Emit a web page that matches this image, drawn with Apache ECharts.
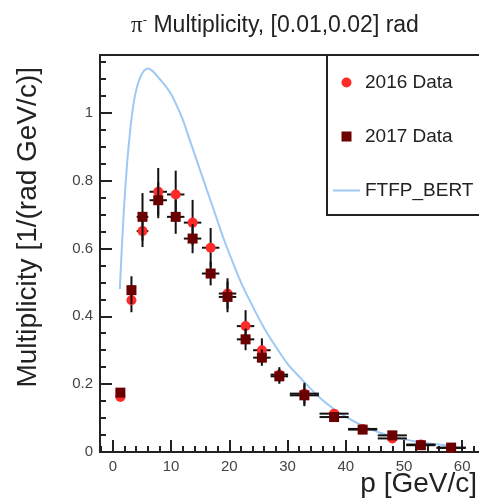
<!DOCTYPE html>
<html><head><meta charset="utf-8">
<script src="https://cdn.jsdelivr.net/npm/echarts@6/dist/echarts.min.js"></script>
<style>html,body{margin:0;padding:0;background:#fff}#c{width:479px;height:499px}</style>
</head><body><div id="c"></div>
<script>
// ---- data ----
const pMom     = [1.3, 3.2, 5.1, 7.8, 10.8, 13.7, 16.8, 19.7, 22.8, 25.6, 28.6, 32.9, 38.0, 42.9, 48.0, 52.9, 58.1];
const pErr     = [0.5, 0.75, 1, 1.5, 1.5, 1.5, 1.5, 1.5, 1.5, 1.5, 1.5, 2.5, 2.5, 2.5, 2.5, 2.5, 2.5];
const mult2016 = [0.162, 0.447, 0.651, 0.767, 0.759, 0.676, 0.602, 0.467, 0.371, 0.300, 0.228, 0.172, 0.113, 0.068, 0.040, 0.022, 0.012];
const err2016  = [0.012, 0.035, 0.047, 0.070, 0.070, 0.067, 0.058, 0.045, 0.047, 0.035, 0.022, 0.032, 0.010, 0.006, 0.005, 0.004, 0.003];
const mult2017 = [0.175, 0.477, 0.693, 0.742, 0.693, 0.629, 0.526, 0.457, 0.332, 0.278, 0.223, 0.167, 0.103, 0.066, 0.049, 0.020, 0.013];
const err2017  = [0.012, 0.041, 0.070, 0.053, 0.050, 0.043, 0.035, 0.045, 0.032, 0.024, 0.022, 0.032, 0.010, 0.006, 0.005, 0.004, 0.003];
const bertP    = [1.2, 1.6, 2.0, 2.5, 3.0, 3.5, 4.0, 4.5, 5.0, 5.5, 6.0, 6.5, 7.0, 8.0, 9.0, 10, 11, 12, 13, 14, 15, 16, 17, 18, 19, 20, 22, 24, 26, 28, 30, 32, 34, 36, 38, 40, 42, 44, 46, 48, 50, 52, 54, 56, 58];
const bertMult = [0.48, 0.62, 0.74, 0.86, 0.95, 1.02, 1.065, 1.095, 1.115, 1.126, 1.13, 1.127, 1.12, 1.10, 1.08, 1.055, 1.02, 0.98, 0.93, 0.88, 0.83, 0.78, 0.73, 0.68, 0.63, 0.585, 0.50, 0.43, 0.365, 0.31, 0.26, 0.222, 0.186, 0.153, 0.126, 0.104, 0.085, 0.069, 0.056, 0.046, 0.038, 0.031, 0.026, 0.022, 0.019];
const xMajor = [0, 10, 20, 30, 40, 50, 60];
const xMinor = [-2, 2, 4, 6, 8, 12, 14, 16, 18, 22, 24, 26, 28, 32, 34, 36, 38, 42, 44, 46, 48, 52, 54, 56, 58, 62];
const yMajor = [0, 0.2, 0.4, 0.6, 0.8, 1];
const yMinor = [0.05, 0.1, 0.15, 0.25, 0.3, 0.35, 0.45, 0.5, 0.55, 0.65, 0.7, 0.75, 0.85, 0.9, 0.95, 1.05, 1.1, 1.15];
const legendNames = ['2016 Data', '2017 Data', 'FTFP_BERT'];

const X_MIN = -2.2, X_MAX = 63.4, Y_MIN = 0, Y_MAX = 1.17;
const FONT = 'Liberation Sans';
const AX = '#222';
const BERT_COLOR = '#9ec9f5';

function errItem(params, api) {
  const x = api.value(0), y = api.value(1), ex = api.value(2), ey = api.value(3);
  const l = api.coord([x - ex, y]), r = api.coord([x + ex, y]);
  const t = api.coord([x, y + ey]), b = api.coord([x, y - ey]);
  const st = { stroke: '#111', lineWidth: 2 };
  return { type: 'group', children: [
    { type: 'line', shape: { x1: l[0], y1: l[1], x2: r[0], y2: r[1] }, style: st },
    { type: 'line', shape: { x1: t[0], y1: t[1], x2: b[0], y2: b[1] }, style: st }
  ]};
}

const chart = echarts.init(document.getElementById('c'), null, { renderer: 'canvas' });
chart.setOption({
  animation: false,
  backgroundColor: '#fff',
  title: {
    text: '{pi|π}{sup|-} Multiplicity, [0.01,0.02] rad',
    left: 270, textAlign: 'center', top: 9,
    textStyle: {
      fontSize: 23, fontWeight: 'normal', color: '#222', fontFamily: FONT,
      rich: {
        pi: { fontFamily: 'Liberation Serif', fontSize: 23, color: '#222' },
        sup: { fontFamily: FONT, fontSize: 13, color: '#222', verticalAlign: 'top' }
      }
    }
  },
  legend: {
    data: [
      { name: legendNames[0], icon: 'circle' },
      { name: legendNames[1], icon: 'path://M0,0L10,0L10,10L0,10Z' },
      { name: legendNames[2], icon: 'path://M0,0L27,0L27,2L0,2Z', itemStyle: { color: BERT_COLOR } }
    ],
    orient: 'vertical', left: 327, top: 55,
    itemWidth: 27, itemHeight: 10, itemGap: 35,
    padding: [18, 25, 15, 6],
    borderColor: AX, borderWidth: 2, backgroundColor: '#fff',
    textStyle: { fontSize: 19, color: '#222', fontFamily: FONT },
    selectedMode: false, z: 10
  },
  grid: [
    { left: 100, right: -3, top: 55, bottom: 47, show: true, borderColor: AX, borderWidth: 2, backgroundColor: 'transparent', outerBoundsMode: 'none', containLabel: false },
    { left: 100, right: -3, top: 55, bottom: 47, outerBoundsMode: 'none', containLabel: false }
  ],
  xAxis: [
    {
      type: 'value', gridIndex: 0, min: X_MIN, max: X_MAX,
      axisLine: { show: true, onZero: false, lineStyle: { color: AX, width: 2 } },
      axisTick: { show: true, inside: true, length: 12, customValues: xMajor, lineStyle: { color: AX, width: 2 } },
      axisLabel: { customValues: xMajor, color: '#444', fontSize: 15, margin: 7, fontFamily: FONT },
      splitLine: { show: false },
      name: 'p [GeV/c]', nameLocation: 'end', nameGap: 0, nameMoveOverlap: false,
      nameTextStyle: { fontSize: 28, color: '#222', fontFamily: FONT, align: 'right', verticalAlign: 'top', padding: [18, 5, 0, 0] }
    },
    {
      type: 'value', gridIndex: 1, min: X_MIN, max: X_MAX,
      axisLine: { show: false, onZero: false },
      axisTick: { show: true, inside: true, length: 6, customValues: xMinor, lineStyle: { color: AX, width: 2 } },
      axisLabel: { show: false }, splitLine: { show: false }
    }
  ],
  yAxis: [
    {
      type: 'value', gridIndex: 0, min: Y_MIN, max: Y_MAX,
      axisLine: { show: true, onZero: false, lineStyle: { color: AX, width: 2 } },
      axisTick: { show: true, inside: true, length: 12, customValues: yMajor, lineStyle: { color: AX, width: 2 } },
      axisLabel: { customValues: yMajor, color: '#444', fontSize: 15, margin: 7, fontFamily: FONT },
      splitLine: { show: false },
      name: 'Multiplicity [1/(rad GeV/c)]', nameLocation: 'end', nameGap: 0, nameRotate: 90, nameMoveOverlap: false,
      nameTextStyle: { fontSize: 28, color: '#222', fontFamily: FONT, align: 'right', verticalAlign: 'bottom', padding: [0, 12, 58, 0] }
    },
    {
      type: 'value', gridIndex: 1, min: Y_MIN, max: Y_MAX,
      axisLine: { show: false, onZero: false },
      axisTick: { show: true, inside: true, length: 6, customValues: yMinor, lineStyle: { color: AX, width: 2 } },
      axisLabel: { show: false }, splitLine: { show: false }
    }
  ],
  series: [
    {
      name: 'FTFP_BERT', type: 'line', xAxisIndex: 0, yAxisIndex: 0,
      data: bertP.map((p, i) => [p, bertMult[i]]),
      symbol: 'none', smooth: 0.3,
      lineStyle: { color: BERT_COLOR, width: 2 }, itemStyle: { color: BERT_COLOR }, z: 1
    },
    {
      name: 'err2016', type: 'custom', xAxisIndex: 0, yAxisIndex: 0,
      renderItem: errItem, encode: { x: 0, y: 1 },
      data: pMom.map((p, i) => [p, mult2016[i], pErr[i], err2016[i]]), z: 2, silent: true
    },
    {
      name: '2016 Data', type: 'scatter', xAxisIndex: 0, yAxisIndex: 0,
      data: pMom.map((p, i) => [p, mult2016[i]]),
      symbol: 'circle', symbolSize: 10, itemStyle: { color: '#ff2b2b', opacity: 1 }, z: 3
    },
    {
      name: 'err2017', type: 'custom', xAxisIndex: 0, yAxisIndex: 0,
      renderItem: errItem, encode: { x: 0, y: 1 },
      data: pMom.map((p, i) => [p, mult2017[i], pErr[i], err2017[i]]), z: 4, silent: true
    },
    {
      name: '2017 Data', type: 'scatter', xAxisIndex: 0, yAxisIndex: 0,
      data: pMom.map((p, i) => [p, mult2017[i]]),
      symbol: 'rect', symbolSize: 10, itemStyle: { color: '#6b0000', opacity: 1 }, z: 5
    }
  ]
});
</script>
</body></html>
